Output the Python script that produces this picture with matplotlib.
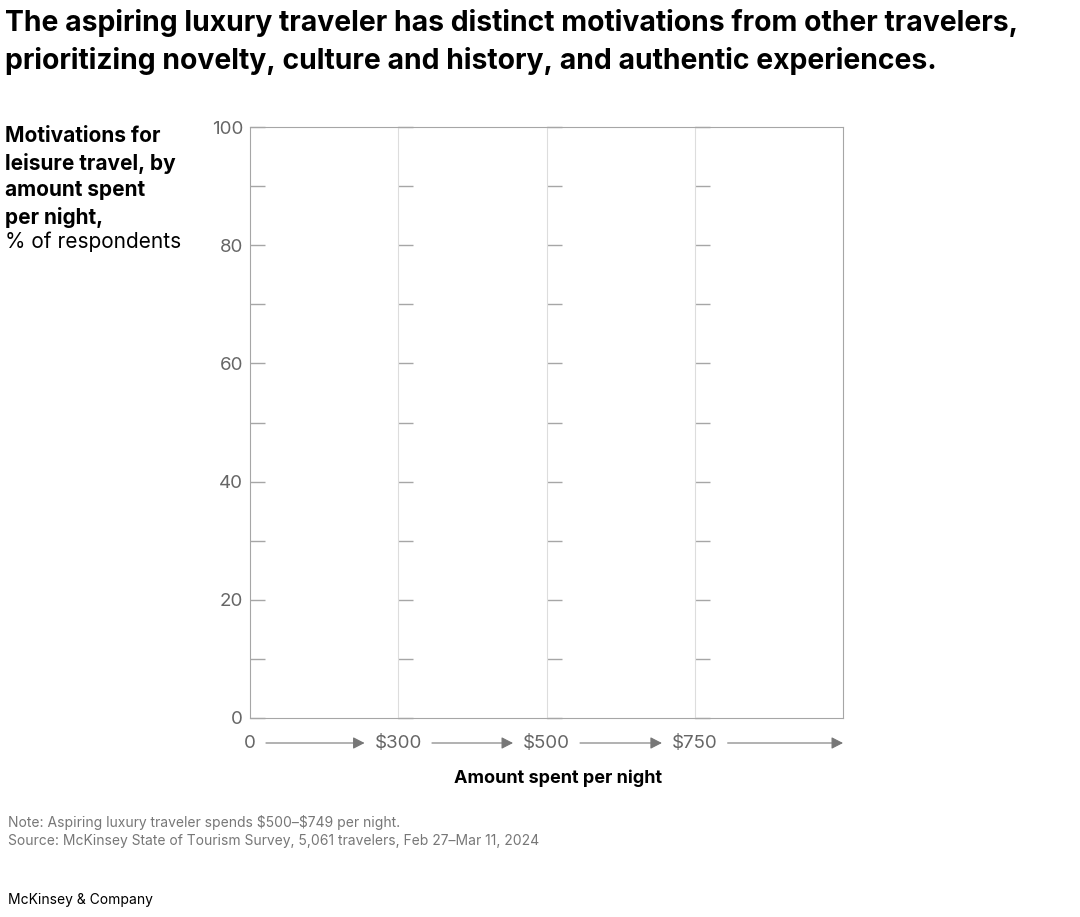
import matplotlib
matplotlib.use("Agg")
import matplotlib.pyplot as plt
from matplotlib.patches import FancyArrowPatch
from matplotlib.ticker import MultipleLocator

plt.rcParams['font.family'] = ['Inter', 'DejaVu Sans']

# spend brackets (one panel each) and their boundary labels
brackets = ["<$300", "$300-$499", "$500-$749", "$750+"]
edge_labels = ["0", "$300", "$500", "$750"]
y_ticks = [0, 20, 40, 60, 80, 100]
y_minor = 10
y_max = 100

title = ("The aspiring luxury traveler has distinct motivations from other travelers,\n"
         "prioritizing novelty, culture and history, and authentic experiences.")
note = "Note: Aspiring luxury traveler spends \\$500\u2013\\$749 per night."
source = "Source: McKinsey State of Tourism Survey, 5,061 travelers, Feb 27\u2013Mar 11, 2024"

W, H = 1080, 917
fig = plt.figure(figsize=(W / 100, H / 100), dpi=100)
left, right, top, bottom = 250 / W, 843 / W, 1 - 127 / H, 1 - 718 / H
gs = fig.add_gridspec(1, len(brackets), left=left, right=right, top=top, bottom=bottom, wspace=0)

grey = "#a6a6a6"
axes = []
for i, b in enumerate(brackets):
    ax = fig.add_subplot(gs[0, i])
    ax.set_ylim(0, y_max)
    ax.set_xlim(0, 1)
    ax.set_xticks([])
    ax.set_yticks(y_ticks)
    ax.yaxis.set_minor_locator(MultipleLocator(y_minor))
    ax.tick_params(axis='y', which='both', direction='in', length=10.8, width=1, color=grey)
    ax.spines['top'].set_color(grey)
    ax.spines['bottom'].set_color(grey)
    ax.spines['right'].set_visible(i == len(brackets) - 1)
    ax.spines['right'].set_color(grey)
    if i == 0:
        ax.spines['left'].set_color(grey)
        ax.tick_params(axis='y', labelsize=13.5, labelcolor="#666666", pad=5)
    else:
        ax.spines['left'].set_color("#dddddd")
        ax.tick_params(axis='y', labelleft=False)
    axes.append(ax)

# boundary labels under each panel
lab_y = 1 - 743 / H
labels = []
for ax, lab in zip(axes, edge_labels):
    x0 = ax.get_position().x0
    t = fig.text(x0, lab_y, lab, ha='center', va='center', fontsize=13.5, color="#666666")
    labels.append(t)

fig.canvas.draw()
rend = fig.canvas.get_renderer()
ext = [t.get_window_extent(rend) for t in labels]
ends = [e.x0 - 10 for e in ext[1:]] + [right * W]
for e, x_end in zip(ext, ends):
    arr = FancyArrowPatch(((e.x1 + 10) / W, lab_y), (x_end / W, lab_y), transform=fig.transFigure,
                          arrowstyle='-|>,head_length=3.5,head_width=1.8', color="#777777",
                          lw=0.8, mutation_scale=2, shrinkA=0, shrinkB=0)
    fig.add_artist(arr)

fig.text((left + right) / 2 + 12 / W, 1 - 778 / H, "Amount spent per night", ha='center', va='center',
         fontsize=13, fontweight='bold', color="black")

fig.text(5 / W, 1 - 9 / H, title, ha='left', va='top', fontsize=20.4, fontweight='bold',
         linespacing=1.45, color="black")

fig.text(5 / W, 1 - 126 / H, "Motivations for\nleisure travel, by\namount spent\nper night,",
         ha='left', va='top', fontsize=15, fontweight='bold', linespacing=1.4, color="black")
fig.text(5 / W, 1 - 242 / H, "% of respondents", ha='left', va='center', fontsize=15, color="black")

fig.text(8 / W, 1 - 823 / H, note, ha='left', va='center', fontsize=10, color="#777777")
fig.text(8 / W, 1 - 841 / H, source, ha='left', va='center', fontsize=10, color="#777777")
fig.text(8 / W, 1 - 900 / H, "McKinsey & Company", ha='left', va='center', fontsize=10, color="black")

fig.savefig("out.png", dpi=100)
